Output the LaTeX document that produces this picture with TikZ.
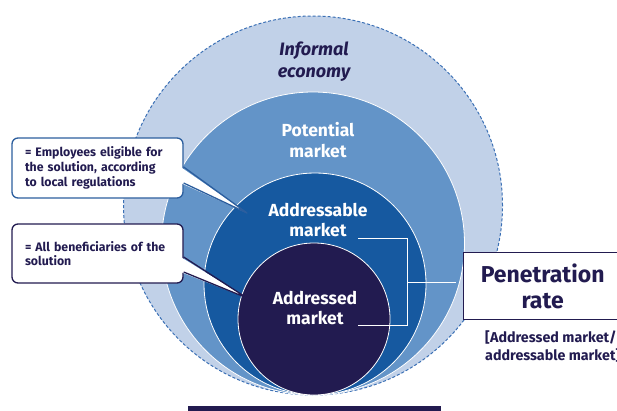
\documentclass[tikz,border=0pt]{standalone}
\usepackage{fontspec}
\setmainfont{Fira Sans}
\usetikzlibrary{positioning}
\definecolor{navy}{HTML}{221B50}
\definecolor{paleblue}{HTML}{C1D1E8}
\definecolor{midblue}{HTML}{6394C8}
\definecolor{deepblue}{HTML}{1659A0}
\definecolor{boxblue}{HTML}{2C5E9E}
\definecolor{dashblue}{HTML}{3B70B5}
\tikzset{
  ring/.style={draw=white, line width=0.8pt},
  ringlabel/.style={font=\fontsize{17.5}{20.5}\selectfont\bfseries, text=white, align=center},
  notebox/.style={draw, line width=1.3pt, rounded corners=6pt, fill=white, text=navy,
    font=\fontsize{12.3}{14.7}\selectfont\bfseries, align=left, text width=145pt,
    inner xsep=13pt, minimum width=171pt},
  bracketline/.style={draw=white, line width=1pt}
}
\begin{document}
\begin{tikzpicture}[x=1pt, y=-1pt]
		\useasboundingbox (0,0) rectangle (617,410);
		%
		%Informal economy
		\draw[fill=paleblue, draw=dashblue, line width=1pt, dash pattern=on 3pt off 2pt] (313,205.5) circle[radius=189.5pt];
		\node[font=\fontsize{18}{22}\selectfont\bfseries\itshape, text=navy, align=center] (informal) at (314,62) {Informal\\economy};
		%
		%Potential market
		\draw[ring, fill=midblue] (313,243.5) circle[radius=151.5pt];
		\node[ringlabel] (potential) at (318,140) {Potential\\market};
		%
		%Addressable market
		\draw[ring, fill=deepblue] (315,284) circle[radius=111pt];
		\node[ringlabel] (addressable) at (318,220) {Addressable\\market};
		%
		%Addressed market
		\draw[ring, fill=navy] (314,319) circle[radius=76pt];
		\node[ringlabel] (addressed) at (315,308) {Addressed\\market};
		%
		%Penetration rate
		\node[draw=navy, line width=1.3pt, fill=white, text=navy, font=\fontsize{23}{26}\selectfont\bfseries,
		  align=center, minimum width=158pt, minimum height=67pt, anchor=north west] (pen) at (463,252) {Penetration\\rate};
		\node[text=navy, font=\fontsize{14.3}{18}\selectfont\bfseries, align=left, anchor=north west, inner sep=0pt]
		  (ratio) at (485,331) {[Addressed market/\\addressable market]};
		%
		%bracket
		\coordinate (top) at (358,238);
		\coordinate (bottom) at (358,325);
		\coordinate (joint) at (407,282);
		\coordinate (free) at (456,282);
		\draw[bracketline] (top) -- (top -| joint) -- (bottom -| joint) -- (bottom);
		\draw[bracketline] (joint) -- (free);
		%
		%Employees eligible
		\node[notebox, draw=boxblue, minimum height=60pt] (eligible) at (97.5,168)
		  {= Employees eligible for\\the solution, according\\to local regulations};
		\coordinate (tip1) at (247,213);
		\fill[white] ([xshift=-3pt, yshift=1pt]eligible.east) -- (tip1) -- ([xshift=-3pt, yshift=-15pt]eligible.east) -- cycle;
		\draw[boxblue, line width=1.3pt] ([yshift=1pt]eligible.east) -- (tip1) -- ([yshift=-15pt]eligible.east);
		%
		%All beneficiaries
		\node[notebox, draw=navy, minimum height=59pt] (beneficiaries) at (97.5,253.5)
		  {= All beneficiaries of the\\solution};
		\coordinate (tip2) at (247,298);
		\fill[white] ([xshift=-3pt, yshift=-3.5pt]beneficiaries.east) -- (tip2) -- ([xshift=-3pt, yshift=-18.5pt]beneficiaries.east) -- cycle;
		\draw[navy, line width=1.3pt] ([yshift=-3.5pt]beneficiaries.east) -- (tip2) -- ([yshift=-18.5pt]beneficiaries.east);
		%
		%bottom bar
		\fill[navy] (188,406) rectangle (441,412);
	\end{tikzpicture}
\end{document}
